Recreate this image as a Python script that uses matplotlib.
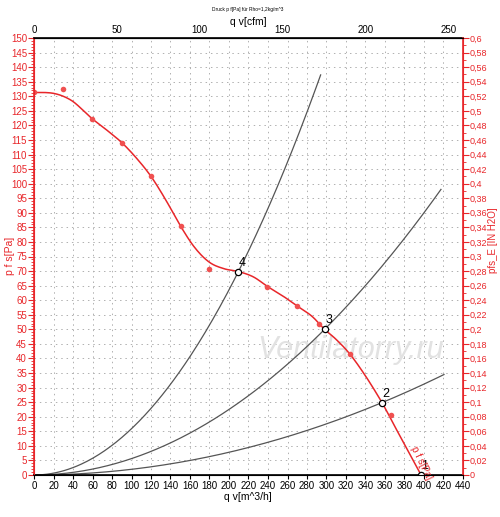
import numpy as np
import matplotlib
matplotlib.use("Agg")
import matplotlib.pyplot as plt
from matplotlib.ticker import MultipleLocator, FixedLocator, FuncFormatter

plt.rcParams['font.family'] = ['Liberation Sans', 'DejaVu Sans']

# Fan curve
fan_q = [0, 10, 20, 30, 40, 50, 60, 75, 90, 105, 120, 135, 150, 165, 180, 195,
         210, 225, 240, 255, 270, 285, 298, 310, 324, 340, 357, 370, 385, 397]
fan_p = [131.3, 131.3, 131.0, 130.0, 128.2, 125.3, 122.2, 118.3, 114.1, 108.8,
         102.5, 94.5, 85.6, 78.0, 73.0, 70.8, 69.8, 68.0, 64.6, 61.5, 58.0, 54.5,
         50.0, 46.5, 41.5, 34.0, 24.8, 16.7, 7.4, 0.0]

# Measured points
meas_q = [0, 30.1, 59.5, 89.9, 120.3, 150.4, 179.8, 239.3, 269.7, 292.6, 324.1, 366.5]
meas_p = [131.3, 132.4, 122.2, 114.1, 102.5, 85.6, 70.6, 64.6, 58.0, 51.8, 41.5, 20.7]

# Operating points / system curves
op_labels = ['1', '2', '3', '4']
op_q = [396.6, 356.6, 298.1, 209.6]
op_p = [0.0, 24.8, 50.0, 69.8]
sys_end_q = [440, 420.5, 417.4, 294]

cfm_ticks = [0, 50, 100, 150, 200, 250]


def smooth(xs, ys, n=12):
    """Catmull-Rom rendering through the given points."""
    xs = np.asarray(xs, float); ys = np.asarray(ys, float)
    px = np.concatenate([[2 * xs[0] - xs[1]], xs, [2 * xs[-1] - xs[-2]]])
    py = np.concatenate([[2 * ys[0] - ys[1]], ys, [2 * ys[-1] - ys[-2]]])
    outx, outy = [], []
    t = np.linspace(0, 1, n, endpoint=False)
    for i in range(1, len(px) - 2):
        for arr, out in ((px, outx), (py, outy)):
            p0, p1, p2, p3 = arr[i - 1], arr[i], arr[i + 1], arr[i + 2]
            out.extend(0.5 * ((2 * p1) + (-p0 + p2) * t + (2 * p0 - 5 * p1 + 4 * p2 - p3) * t ** 2
                              + (-p0 + 3 * p1 - 3 * p2 + p3) * t ** 3))
    outx.append(xs[-1]); outy.append(ys[-1])
    return np.array(outx), np.array(outy)


W, H = 500, 517
fig = plt.figure(figsize=(W / 100, H / 100), dpi=100)
x0, x1, y0, y1 = 34, 463, 38, 475
ax = fig.add_axes([x0 / W, 1 - y1 / H, (x1 - x0) / W, (y1 - y0) / H])

red = '#e8262a'

ax.set_xlim(0, 440)
ax.set_ylim(0, 150)

# grid
for xv in np.arange(20, 440, 20):
    ax.axvline(xv, color='#b0b0b0', lw=0.7, ls=(0, (1.5, 4)), zorder=0)
for yv in np.arange(5, 150, 5):
    ax.axhline(yv, color='#b0b0b0', lw=0.7, ls=(0, (1.5, 4)), zorder=0)

# watermark
ax.text(325, 43, 'Ventilatorry.ru', fontsize=22, style='italic', color='#e2e2e2',
        ha='center', va='center', zorder=1)

# system curves
for q0, p0, qe in zip(op_q, op_p, sys_end_q):
    qs = np.linspace(0, qe, 200)
    k = p0 / q0 ** 2
    ax.plot(qs, k * qs ** 2, color='#555555', lw=0.9, zorder=2)

# fan curve
sx, sy = smooth(fan_q, fan_p)
ax.plot(sx, sy, color=red, lw=1.1, zorder=3)
ax.plot(meas_q, meas_p, 'o', color='#f05050', ms=4, mec='none', zorder=4)

# operating points
ax.plot(op_q, op_p, 'o', mfc='white', mec='black', ms=4.5, mew=0.9, zorder=5)
for lab, q0, p0 in zip(op_labels, op_q, op_p):
    ax.text(q0 + 0.5, p0 + 1.0, lab, fontsize=9, color='black', ha='left', va='bottom', zorder=6)

# curve label
ax.text(397, 4, 'p f s[Pa]', color=red, fontsize=7, rotation=-64,
        ha='center', va='center', zorder=6)

# spines
for s in ['left', 'right']:
    ax.spines[s].set_color(red)
ax.spines['left'].set_linewidth(1.2)
ax.spines['bottom'].set_linewidth(1.2)
ax.spines['top'].set_linewidth(1.2)

ax.xaxis.set_major_locator(MultipleLocator(20))
ax.yaxis.set_major_locator(MultipleLocator(5))
ax.yaxis.set_minor_locator(MultipleLocator(1))
ax.tick_params(axis='x', labelsize=7, length=3, direction='out', pad=1)
ax.tick_params(axis='y', colors=red, labelsize=7, length=4, direction='out', pad=1)
ax.tick_params(axis='y', which='minor', colors=red, length=2)

fig.text(248 / W, 1 - 497 / H, 'q v[m^3/h]', fontsize=7.5, ha='center', va='center')
fig.text(10 / W, 1 - 256 / H, 'p f s[Pa]', fontsize=7.5, color=red, rotation=90,
         ha='center', va='center')

# right axis
ax2 = ax.twinx()
ax2.set_ylim(0, 0.6)
ax2.yaxis.set_major_locator(MultipleLocator(0.02))
ax2.yaxis.set_minor_locator(MultipleLocator(0.01))
ax2.yaxis.set_major_formatter(FuncFormatter(lambda v, p: ('%g' % round(v, 2)).replace('.', ',')))
ax2.tick_params(axis='y', colors=red, labelsize=6.5, length=4, pad=1)
ax2.tick_params(axis='y', which='minor', colors=red, length=2)
ax2.spines['right'].set_color(red)
ax2.spines['right'].set_linewidth(1.2)
ax2.spines['left'].set_color(red)
fig.text(493 / W, 1 - 240 / H, 'pfs_E [IN H2O]', fontsize=7, color=red, rotation=90,
         ha='center', va='center')

# top axis in cfm
secx = ax.secondary_xaxis('top', functions=(lambda q: q / 1.699, lambda c: c * 1.699))
secx.xaxis.set_major_locator(FixedLocator(cfm_ticks))
secx.tick_params(axis='x', labelsize=7, length=0, pad=2)
fig.text(248 / W, 1 - 22 / H, 'q v[cfm]', fontsize=7.5, ha='center', va='center')

fig.text(248 / W, 1 - 9 / H, 'Druck p f[Pa] für Rho=1,2kg/m^3', fontsize=3.5,
         ha='center', va='center')

fig.savefig('out.png', dpi=100, facecolor='white')
